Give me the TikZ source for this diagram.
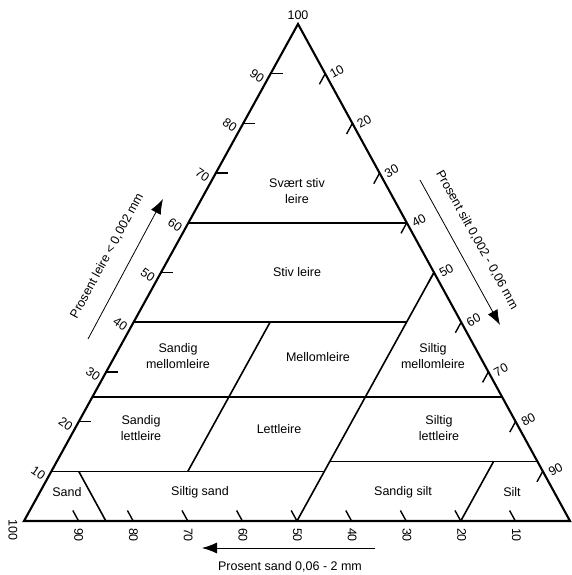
\documentclass[tikz,border=0pt]{standalone}
\usepackage{fontspec}
\setmainfont{Liberation Sans}
\usetikzlibrary{arrows.meta}

\tikzstyle{kant} = [draw, line width=2.1pt, line join=miter]
\tikzstyle{grense} = [draw, line width=1.6pt]
\tikzstyle{merke} = [draw, line width=1.4pt]
\tikzstyle{klasse} = [align=center, inner sep=0pt, font=\fontsize{12.5}{16}\selectfont]
\tikzstyle{tall} = [inner sep=0pt, font=\fontsize{12.5}{14}\selectfont]
\tikzstyle{arrow} = [draw, line width=0.8pt, -{Latex[length=15pt,width=11pt]}]

\begin{document}
\begin{tikzpicture}[x=1pt,y=1pt]
\useasboundingbox (0,0) rectangle (571,575);
\coordinate (sand) at (24,54);
\coordinate (silt) at (570,54);
\coordinate (leire) at (298,551);

% trekanten
\path[kant] (sand) -- (silt) -- (leire) -- cycle;

% skala (vekter i tideler)
\foreach \i [evaluate=\i as \j using int(10-\i)] in {1,...,9} {
  \path[merke] (barycentric cs:sand=\i,silt=\j) -- ++(118.8:12);
  \path[merke] (barycentric cs:sand=\j,leire=\i) -- ++(12,0);
  \path[merke] (barycentric cs:silt=\i,leire=\j) -- ++(241.2:12);
  \node[tall, rotate=-35] (v\i) at ({11+27.35*\i},{52+49.7*\i}) {\i0};
  \node[tall, rotate=29] (h\i) at ({309.5+27.35*\i},{553-49.7*\i}) {\i0};
  \node[tall, rotate=-90] (b\i) at ({571-54.7*\i},40) {\i0};
}
\node[tall, rotate=-90] (b10) at (13,45) {100};
\node[tall] (topp) at (298,560) {100};

% klassegrenser
\path[grense] (barycentric cs:sand=4,leire=6) -- (barycentric cs:silt=4,leire=6);
\path[grense] (barycentric cs:sand=6,leire=4) -- (barycentric cs:sand=1,silt=5,leire=4);
\path[grense] (barycentric cs:sand=5,silt=5) -- (barycentric cs:silt=5,leire=5);
\path[grense] (barycentric cs:sand=7.5,leire=2.5) -- (barycentric cs:silt=7.5,leire=2.5);
\path[grense] (barycentric cs:sand=3.5,silt=2.5,leire=4) -- (barycentric cs:sand=6.5,silt=2.5,leire=1);
\path[grense] (barycentric cs:sand=9,leire=1) -- (barycentric cs:sand=4,silt=5,leire=1);
\path[grense] (barycentric cs:sand=3.8,silt=5,leire=1.2) -- (barycentric cs:silt=8.8,leire=1.2);
\path[grense] (barycentric cs:sand=8.5,silt=1.5) -- (barycentric cs:sand=8.5,silt=0.5,leire=1);
\path[grense] (barycentric cs:sand=2,silt=8) -- (barycentric cs:sand=0.8,silt=8,leire=1.2);

% klasser
\node[klasse] (svaertstiv) at (297,384) {Svært stiv\\leire};
\node[klasse] (stivleire) at (297,303) {Stiv leire};
\node[klasse] (sandigmellom) at (178,219) {Sandig\\mellomleire};
\node[klasse] (mellomleire) at (318,218) {Mellomleire};
\node[klasse] (siltigmellom) at (433,219) {Siltig\\mellomleire};
\node[klasse] (sandiglett) at (141,147) {Sandig\\lettleire};
\node[klasse] (lettleire) at (279,146) {Lettleire};
\node[klasse] (siltiglett) at (439,147) {Siltig\\lettleire};
\node[klasse] (sandkl) at (67,83) {Sand};
\node[klasse] (siltigsand) at (200,83) {Siltig sand};
\node[klasse] (sandigsilt) at (403,83) {Sandig silt};
\node[klasse] (siltkl) at (512,83) {Silt};

% aksetitler
\node[tall, rotate=61.5] (leiretittel) at (107,319) {Prosent leire < 0,002 mm};
\coordinate (leirefra) at (88,236);
\coordinate (leiretil) at (163,376);
\path[arrow] (leirefra) -- (leiretil);

\node[tall, rotate=-61] (silttittel) at (477,335) {Prosent silt 0,002 - 0,06 mm};
\coordinate (siltfra) at (420,395);
\coordinate (silttil) at (500,250);
\path[arrow] (siltfra) -- (silttil);

\node[tall] (sandtittel) at (290,8) {Prosent sand 0,06 - 2 mm};
\coordinate (sandfra) at (375,27);
\coordinate (sandtil) at (202,27);
\path[arrow] (sandfra) -- (sandtil);
\end{tikzpicture}
\end{document}
